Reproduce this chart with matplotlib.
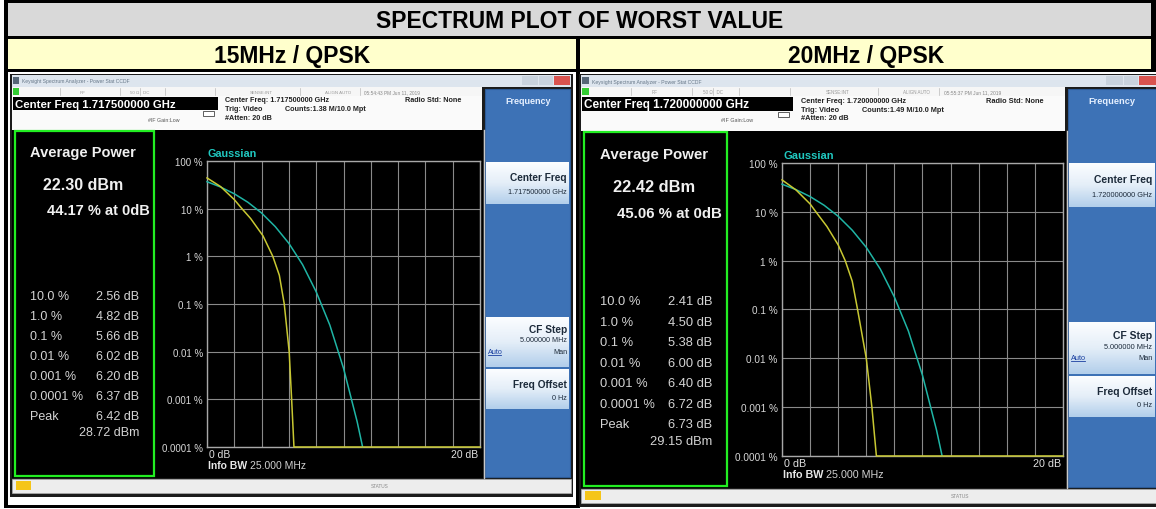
import matplotlib
matplotlib.use("Agg")
import matplotlib.pyplot as plt
from matplotlib.patches import Rectangle
from matplotlib.colors import LinearSegmentedColormap
import numpy as np

W, H = 1156, 510
plt.rcParams['font.family'] = ['Liberation Sans', 'DejaVu Sans']

# ---- data ----
main_title = "SPECTRUM PLOT OF WORST VALUE"
titles = ["15MHz / QPSK", "20MHz / QPSK"]
center_freq = ["1.717500000 GHz", "1.720000000 GHz"]
counts = ["Counts:1.38 M/10.0 Mpt", "Counts:1.49 M/10.0 Mpt"]
timestamps = ["05:54:43 PM Jun 11, 2019", "05:55:37 PM Jun 11, 2019"]
avg_power = ["22.30 dBm", "22.42 dBm"]
pct_at_0db = ["44.17 % at 0dB", "45.06 % at 0dB"]
stat_labels = ["10.0 %", "1.0 %", "0.1 %", "0.01 %", "0.001 %", "0.0001 %", "Peak"]
stat_values = [["2.56 dB", "4.82 dB", "5.66 dB", "6.02 dB", "6.20 dB", "6.37 dB", "6.42 dB"],
               ["2.41 dB", "4.50 dB", "5.38 dB", "6.00 dB", "6.40 dB", "6.72 dB", "6.73 dB"]]
peak_dbm = ["28.72 dBm", "29.15 dBm"]

ytick_vals = [1e-4, 1e-3, 1e-2, 1e-1, 1, 10, 100]
ytick_labels = ["0.0001 %", "0.001 %", "0.01 %", "0.1 %", "1 %", "10 %", "100 %"]

# measured CCDF traces (dB above average power, % of time)
meas_db = [[0, 1, 2, 2.56, 3.2, 4.1, 4.82, 5.3, 5.66, 6.02, 6.20, 6.37, 20],
           [0, 1, 2, 2.41, 3.2, 4.0, 4.50, 5.0, 5.38, 6.00, 6.40, 6.72, 20]]
meas_pct = [[44.17, 29, 15.5, 10, 6.2, 2.7, 1.0, 0.4, 0.1, 0.01, 0.001, 0.0001, 0.0001],
            [45.06, 28, 14.5, 10, 5.0, 2.1, 1.0, 0.38, 0.1, 0.01, 0.001, 0.0001, 0.0001]]
# gaussian reference trace
gauss_db = [0, 1, 2, 3, 4, 5, 6, 7, 8, 9, 10, 11, 11.4]
gauss_pct = [36.8, 28.4, 20.5, 13.6, 8.1, 4.2, 1.87, 0.67, 0.18, 0.036, 0.0045, 0.00034, 0.0001]

fig = plt.figure(figsize=(W / 100, H / 100), dpi=100)

# background table (pixel coords)
bg = fig.add_axes([0, 0, 1, 1])
bg.set_xlim(0, W)
bg.set_ylim(H, 0)
bg.axis('off')


def prect(ax, x0, y0, x1, y1, fc, ec='none', lw=0, z=1):
    ax.add_patch(Rectangle((x0, y0), x1 - x0, y1 - y0, facecolor=fc,
                           edgecolor=ec, lw=lw, zorder=z))


prect(bg, 0, 0, W, H, 'white')
prect(bg, 4, 0, W, 509, 'black')
prect(bg, 8, 4, 1151, 37, '#d9d9d9')
prect(bg, 8, 40, 576, 70, '#ffffcc')
prect(bg, 580, 40, 1151, 70, '#ffffcc')
prect(bg, 8, 73, 576, 506, 'white')
prect(bg, 580, 73, W, 510, 'white')
bg.text(580, 21, main_title, ha='center', va='center', fontsize=16.5, fontweight='bold')
bg.text(292, 56, titles[0], ha='center', va='center', fontsize=16.5, fontweight='bold')
bg.text(866, 56, titles[1], ha='center', va='center', fontsize=16.5, fontweight='bold')

btn_cmap = LinearSegmentedColormap.from_list('btn', ['#fbfdff', '#e4eef8', '#b3cfeb'])
grad = np.linspace(0, 1, 30).reshape(-1, 1)


def draw_screen(i, ox, sx, oy, sy):
    X = lambda x: ox + sx * x
    Y = lambda y: oy + sy * y
    f = sx
    sa = fig.add_axes([X(10) / W, 1 - Y(498) / H, (X(573) - X(10)) / W, (Y(498) - Y(75)) / H])
    sa.axis('off')

    def r(x0, y0, x1, y1, fc, ec='none', lw=0, z=1):
        prect(sa, x0, y0, x1, y1, fc, ec, lw, z)

    def t(x, y, s, size, **kw):
        kw.setdefault('va', 'center')
        sa.text(x, y, s, fontsize=size * f, **kw)

    # window
    r(10, 75, 573, 498, '#1b1b1b')
    r(12, 76, 571, 88, '#dde5ee')
    r(13, 78, 19, 85, '#556677')
    t(22, 82, "Keysight Spectrum Analyzer - Power Stat CCDF", 3.6, color='#667788')
    r(522, 77, 538, 86, '#c9d3de')
    r(539, 77, 553, 86, '#c9d3de')
    r(554, 77, 570, 86, '#d9534f')
    # status row
    r(12, 88, 482, 97, '#f6f6f6')
    r(13, 89, 19, 96, '#33cc33')
    for sxp in [60, 120, 140, 165, 215, 300, 360]:
        sa.plot([sxp, sxp], [89, 96], color='#bbbbbb', lw=0.5)
    t(80, 92.5, "RF", 3.2, color='#999999')
    t(130, 92.5, "50 \u03a9   DC", 3.2, color='#999999')
    t(250, 92.5, "SENSE:INT", 3.2, color='#999999')
    t(325, 92.5, "ALIGN AUTO", 3.2, color='#999999')
    t(364, 92.5, timestamps[i], 3.4, color='#888888')
    # header
    r(12, 97, 482, 131, '#fafafa')
    r(13, 98, 218, 111, 'black')
    t(15, 104.5, "Center Freq " + center_freq[i], 8.2, color='white', fontweight='bold')
    t(225, 101, "Center Freq: " + center_freq[i], 5.2, color='#222222', fontweight='bold')
    t(405, 101, "Radio Std: None", 5.2, color='#222222', fontweight='bold')
    t(225, 109.5, "Trig: Video", 5.2, color='#222222', fontweight='bold')
    t(285, 109.5, counts[i], 5.2, color='#222222', fontweight='bold')
    t(225, 118, "#Atten: 20 dB", 5.2, color='#222222', fontweight='bold')
    t(148, 120, "#IF Gain:Low", 3.8, color='#555555')
    r(203, 112, 214, 117, 'white', ec='#444444', lw=0.6, z=2)

    # black display
    r(12, 131, 483, 479, 'black')
    sa.plot([483.5, 483.5], [131, 479], color='#c8c8c8', lw=1)
    r(15, 132, 154, 477, 'black', ec='#22ee22', lw=1.6, z=2)
    t(30, 153, "Average Power", 10.5, color='#f0f0f0', fontweight='bold')
    t(43, 185, avg_power[i], 11.5, color='#f0f0f0', fontweight='bold')
    t(47, 211, pct_at_0db[i], 10.5, color='#f0f0f0', fontweight='bold')
    for k, lab in enumerate(stat_labels):
        yy = 297 + 20 * k
        t(30, yy, lab, 9, color='#d4d4d4')
        t(139, yy, stat_values[i][k], 9, color='#d4d4d4', ha='right')
    t(139, 433, peak_dbm[i], 9, color='#d4d4d4', ha='right')

    t(208, 154, "Gaussian", 7.8, color='#20c8c0', fontweight='bold')
    t(209, 455, "0 dB", 7.5, color='#e0e0e0')
    t(478, 455, "20 dB", 7.5, color='#e0e0e0', ha='right')
    t(208, 466, "Info BW", 7.5, color='#e8e8e8', fontweight='bold')
    t(250, 466, "25.000 MHz", 7.5, color='#d0d0d0')

    # soft key panel
    r(485, 90, 570, 478, '#3d72b6', ec='#2c5a96', lw=0.8)
    t(528, 101, "Frequency", 6.5, color='#e6f0ff', fontweight='bold', ha='center')
    for (y0, y1) in [(163, 205), (318, 368), (370, 410)]:
        sa.imshow(grad, cmap=btn_cmap, extent=(486, 569, y1, y0), aspect='auto', zorder=2)
    t(567, 178, "Center Freq", 7.3, color='#1c2a3a', fontweight='bold', ha='right', zorder=3)
    t(567, 193, center_freq[i], 5.2, color='#1c2a3a', ha='right', zorder=3)
    t(567, 330, "CF Step", 7.3, color='#1c2a3a', fontweight='bold', ha='right', zorder=3)
    t(567, 341, "5.000000 MHz", 5.2, color='#1c2a3a', ha='right', zorder=3)
    t(488, 352, "Auto", 5.2, color='#1a3fa0', ha='left', zorder=3)
    sa.plot([488, 501], [355.5, 355.5], color='#1a3fa0', lw=0.6, zorder=3)
    t(567, 352, "Man", 5.2, color='#1c2a3a', ha='right', zorder=3)
    t(567, 385, "Freq Offset", 7.3, color='#1c2a3a', fontweight='bold', ha='right', zorder=3)
    t(567, 398, "0 Hz", 5.2, color='#1c2a3a', ha='right', zorder=3)

    # status bar
    r(12, 480, 571, 494, '#ededed', ec='#b0b0b0', lw=0.5)
    r(16, 482, 31, 491, '#f5c518')
    t(380, 487, "STATUS", 3.4, color='#888888', ha='center')

    sa.set_xlim(10, 573)
    sa.set_ylim(498, 75)

    # CCDF graticule
    ax = fig.add_axes([X(207) / W, 1 - Y(448) / H, (X(480) - X(207)) / W, (Y(448) - Y(162)) / H])
    ax.set_facecolor('black')
    ax.set_yscale('log')
    ax.set_xlim(0, 20)
    ax.set_ylim(1e-4, 100)
    ax.set_xticks(np.arange(0, 21, 2))
    ax.set_yticks(ytick_vals)
    ax.set_yticklabels(ytick_labels)
    ax.minorticks_off()
    ax.tick_params(length=0, labelbottom=False, labelsize=7 * f, labelcolor='#d8d8d8', pad=3)
    ax.grid(True, color='#8a8a8a', lw=0.8)
    for sp in ax.spines.values():
        sp.set_color('#a8a8a8')
        sp.set_linewidth(1)
    ax.plot(gauss_db, gauss_pct, color='#1fb5a5', lw=1.1, clip_on=False, zorder=3)
    ax.plot(meas_db[i], meas_pct[i], color='#c8c832', lw=1.1, clip_on=False, zorder=4)


draw_screen(0, 0.0, 1.0, 0.0, 1.0)
draw_screen(1, 569.0, 1.029, -2.0, 1.0245)

fig.savefig('out.png', dpi=100)
